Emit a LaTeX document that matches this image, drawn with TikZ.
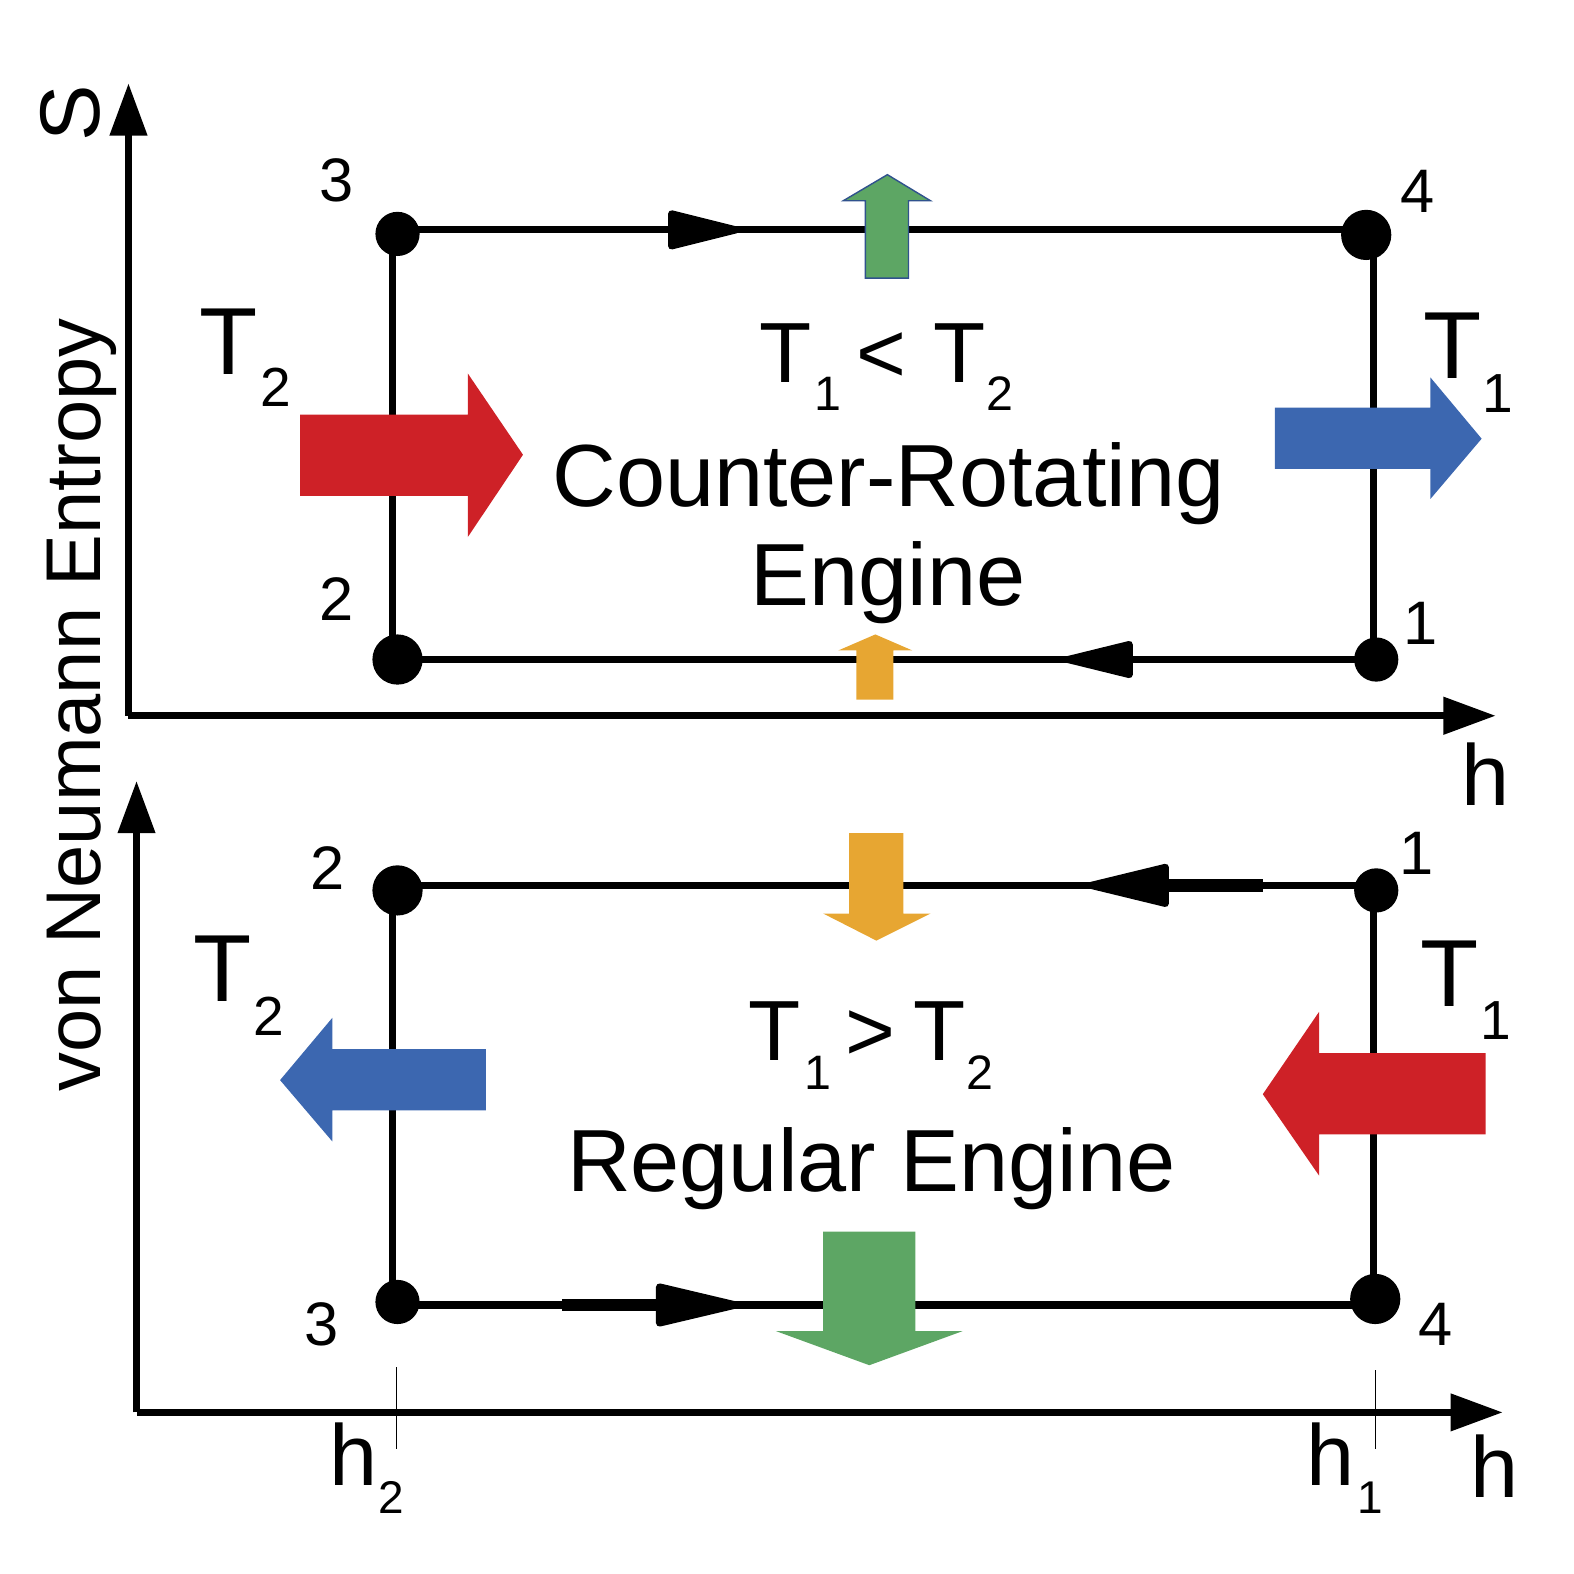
\documentclass[tikz,border=0pt]{standalone}
\usepackage{fontspec}
\setmainfont{Liberation Sans}
\usetikzlibrary{arrows.meta}
\newcommand\myfs[1]{\fontsize{#1}{#1}\selectfont}
\definecolor{cgreen}{RGB}{93,166,100}
\definecolor{corange}{RGB}{231,166,50}
\definecolor{cred}{RGB}{206,33,39}
\definecolor{cblue}{RGB}{60,103,176}
\begin{document}
\begin{tikzpicture}[x=0.01cm,y=-0.01cm,
  edge/.style={line width=2pt},
  axis/.style={line width=2pt,-{Triangle[length=0.52cm,width=0.36cm]}},
  midtip/.style={fill=black,draw=black,line width=2pt,line join=round},
  dot/.style={circle,fill=black,inner sep=0pt},
  txt/.style={inner sep=0pt,anchor=base},
  lab/.style={txt,font=\myfs{17.4pt}},
  bigT/.style={txt,font=\myfs{27pt}},
  subS/.style={txt,font=\myfs{15.6pt}},
  midT/.style={txt,font=\myfs{24.2pt}},
  subM/.style={txt,font=\myfs{13.7pt}},
  title/.style={txt,font=\myfs{25pt}},
  hlab/.style={txt,font=\myfs{24.5pt}},
  hsub/.style={txt,font=\myfs{13pt}}]
\useasboundingbox (0,0) rectangle (1568,1568);

% ---------------- top diagram ----------------
\coordinate (o1) at (128,713);
\coordinate (ya1) at (128,83);
\coordinate (xa1) at (1490,713);
\draw[axis] (o1) -- (ya1);
\draw[axis] (o1) -- (xa1);

\coordinate (a3) at (391,229);
\coordinate (a4) at (1368,229);
\coordinate (a1) at (1368,657);
\coordinate (a2) at (391,657);
\draw[edge] (a3) -- (a4);
\draw[edge] (a4) -- (a1);
\draw[edge] (a1) -- (a2);
\draw[edge] (a2) -- (a3);
\filldraw[midtip] (669,213) -- (733,229) -- (669,245) -- cycle;
\filldraw[midtip] (1125,642) -- (1064,657) -- (1125,672) -- cycle;

\node[dot,minimum size=0.44cm] (d3t) at (396,233) {};
\node[dot,minimum size=0.50cm] (d4t) at (1361,234) {};
\node[dot,minimum size=0.50cm] (d2t) at (396,657) {};
\node[dot,minimum size=0.44cm] (d1t) at (1371,657) {};

\fill[cgreen] (862,277) -- (862,200) -- (840,200) -- (884,174) -- (927,200) -- (905,200) -- (905,277) -- cycle;
\draw[cblue!80!black,line width=0.4pt] (862,277) -- (862,200) -- (840,200) -- (884,174) -- (927,200) -- (905,200) -- (905,277) -- cycle;
\fill[corange] (853,697) -- (853,648) -- (835,648) -- (872,632) -- (909,648) -- (890,648) -- (890,697) -- cycle;
\fill[cred] (299,413) -- (466,413) -- (466,372) -- (521,453) -- (466,535) -- (466,494) -- (299,494) -- cycle;
\fill[cblue] (1270,406) -- (1425,406) -- (1425,376) -- (1476,437) -- (1425,497) -- (1425,467) -- (1270,467) -- cycle;

\node[lab] (l3t) at (335,201) {3};
\node[lab] (l4t) at (1412,212) {4};
\node[lab] (l2t) at (335,618) {2};
\node[lab] (l1t) at (1415,642) {1};

\node[bigT] (tl2) at (228,373) {T};
\node[subS] (tl2s) at (275,405) {2};
\node[bigT] (tr1) at (1447,377) {T};
\node[subS] (tr1s) at (1492,411) {1};

\node[midT] (ct1) at (783,381) {T};
\node[subM] (ct1s) at (825,409) {1};
\node[midT] (clt) at (878,381) {<};
\node[midT] (ct2) at (956,381) {T};
\node[subM] (ct2s) at (996,409) {2};
\node[title] (cr) at (885,505) {Counter-Rotating};
\node[title] (ce) at (885,603) {Engine};
\node[hlab] (hx1) at (1480,802) {h};

% ---------------- bottom diagram ----------------
\coordinate (o2) at (136,1407);
\coordinate (ya2) at (136,778);
\coordinate (xa2) at (1497,1407);
\draw[axis] (o2) -- (ya2);
\draw[axis] (o2) -- (xa2);

\coordinate (b2) at (391,882);
\coordinate (b1) at (1368,882);
\coordinate (b4) at (1368,1300);
\coordinate (b3) at (391,1300);
\draw[edge] (b1) -- (b2);
\draw[edge] (b2) -- (b3);
\draw[edge] (b3) -- (b4);
\draw[edge] (b4) -- (b1);
\coordinate (k1a) at (1163,882);
\coordinate (k1b) at (1258,882);
\draw[line width=3.6pt] (k1a) -- (k1b);
\filldraw[midtip] (1161,864) -- (1087,882) -- (1161,900) -- cycle;
\coordinate (k2a) at (560,1300);
\coordinate (k2b) at (657,1300);
\draw[line width=3.6pt] (k2a) -- (k2b);
\filldraw[midtip] (657,1282) -- (733,1300) -- (657,1318) -- cycle;

\node[dot,minimum size=0.50cm] (d2b) at (396,887) {};
\node[dot,minimum size=0.44cm] (d1b) at (1371,887) {};
\node[dot,minimum size=0.44cm] (d3b) at (396,1297) {};
\node[dot,minimum size=0.50cm] (d4b) at (1370,1294) {};

\fill[corange] (846,830) -- (900,830) -- (900,910) -- (927,910) -- (873,937) -- (820,910) -- (846,910) -- cycle;
\fill[cgreen] (820,1227) -- (912,1227) -- (912,1326) -- (959,1326) -- (866,1360) -- (773,1326) -- (820,1326) -- cycle;
\fill[cblue] (484,1045) -- (331,1045) -- (331,1014) -- (279,1076) -- (331,1137) -- (331,1106) -- (484,1106) -- cycle;
\fill[cred] (1480,1049) -- (1314,1049) -- (1314,1008) -- (1258,1090) -- (1314,1171) -- (1314,1130) -- (1480,1130) -- cycle;

\coordinate (tk2a) at (395,1362);
\coordinate (tk2b) at (395,1443);
\coordinate (tk1a) at (1370,1365);
\coordinate (tk1b) at (1370,1443);
\draw[line width=0.3pt] (tk2a) -- (tk2b);
\draw[line width=0.3pt] (tk1a) -- (tk1b);

\node[lab] (l2b) at (326,886) {2};
\node[lab] (l1b) at (1411,871) {1};
\node[lab] (l3b) at (320,1340) {3};
\node[lab] (l4b) at (1430,1340) {4};

\node[bigT] (bl2) at (222,998) {T};
\node[subS] (bl2s) at (268,1032) {2};
\node[bigT] (br1) at (1444,1003) {T};
\node[subS] (br1s) at (1490,1036) {1};

\node[midT] (bt1) at (772,1056) {T};
\node[subM] (bt1s) at (815,1085) {1};
\node[midT] (bgt) at (867,1056) {>};
\node[midT] (bt2) at (936,1056) {T};
\node[subM] (bt2s) at (976,1085) {2};
\node[title] (re) at (868,1187) {Regular Engine};

\node[hlab] (h2) at (352,1480) {h};
\node[hsub] (h2s) at (390,1508) {2};
\node[hlab] (h1) at (1325,1480) {h};
\node[hsub] (h1s) at (1365,1508) {1};
\node[hlab] (hx2) at (1489,1492) {h};

% ---------------- shared axis label ----------------
\node[txt,rotate=90,font=\myfs{22pt}] (ylab) at (100,702) {von Neumann Entropy};
\node[txt,rotate=90,font=\myfs{24pt}] (slab) at (99,113) {S};
\end{tikzpicture}
\end{document}
